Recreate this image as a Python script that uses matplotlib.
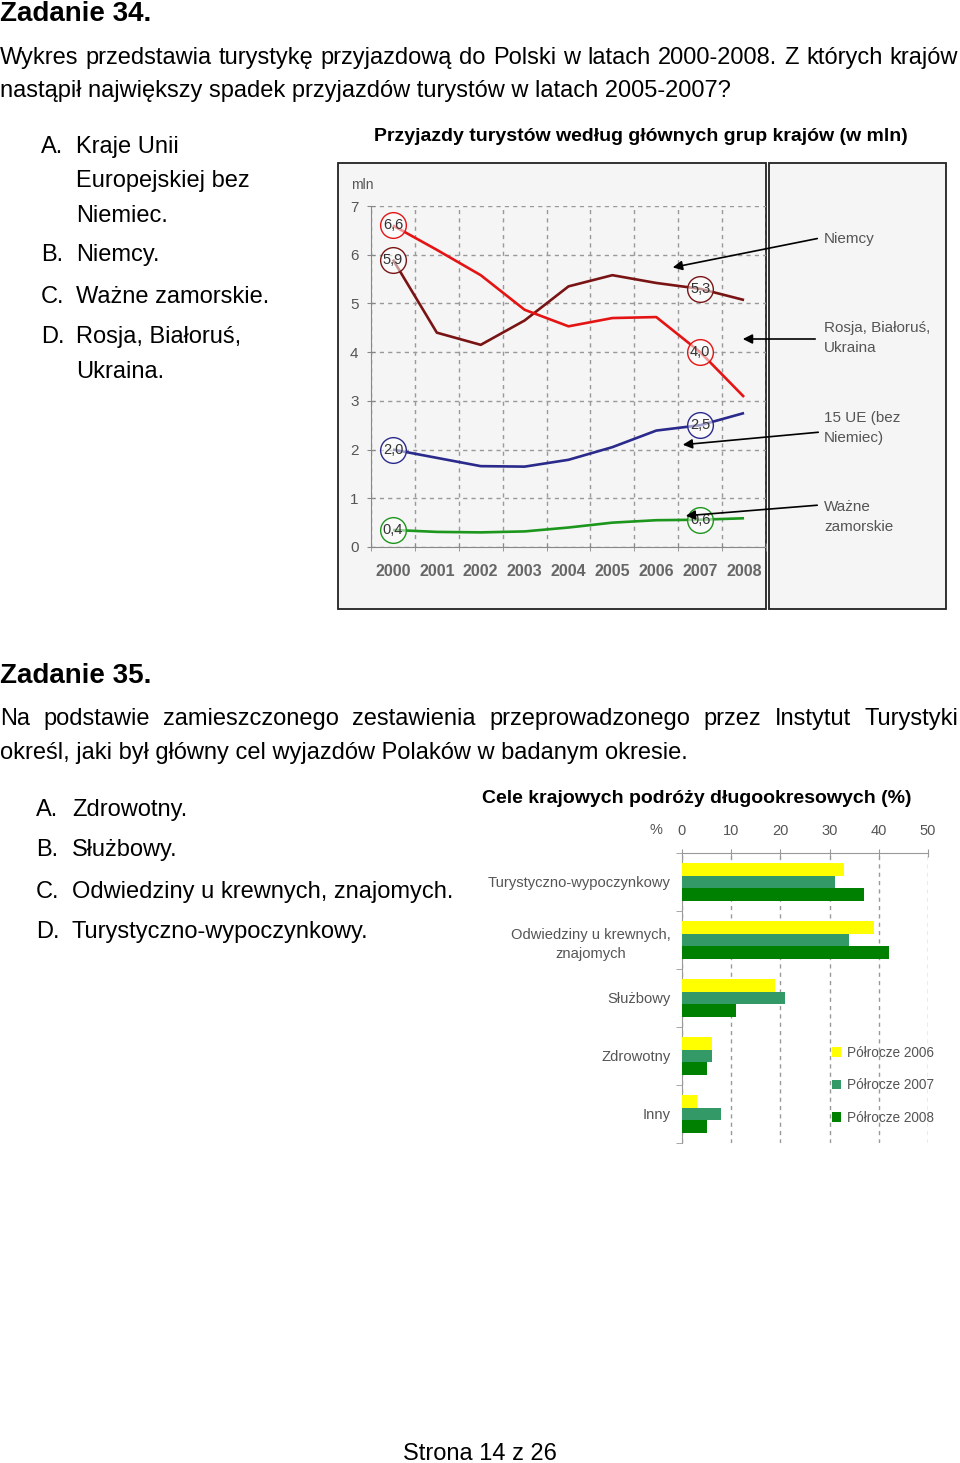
import matplotlib
matplotlib.use("Agg")
import matplotlib.pyplot as plt
from matplotlib.patches import Rectangle, FancyArrowPatch
import numpy as np

plt.rcParams['font.family'] = ['Liberation Sans', 'DejaVu Sans']

W, H = 960, 1463

# --- data: arrivals by country group (mln) ---
years      = ["2000", "2001", "2002", "2003", "2004", "2005", "2006", "2007", "2008"]
niemcy     = [5.9, 4.4, 4.15, 4.65, 5.35, 5.58, 5.42, 5.3, 5.07]
rosja      = [6.6, 6.1, 5.58, 4.87, 4.53, 4.70, 4.72, 4.0, 3.08]
ue15       = [2.0, 1.83, 1.66, 1.65, 1.79, 2.05, 2.39, 2.5, 2.75]
zamorskie  = [0.35, 0.31, 0.30, 0.32, 0.40, 0.50, 0.55, 0.56, 0.59]
label_2000 = [5.9, 6.6, 2.0, 0.4]
label_2007 = [5.3, 4.0, 2.5, 0.6]
series_names = ["Niemcy", "Rosja, Białoruś,\nUkraina", "15 UE (bez\nNiemiec)", "Ważne\nzamorskie"]

# --- data: purposes of domestic trips (%) ---
purposes = ["Turystyczno-wypoczynkowy", "Odwiedziny u krewnych,\nznajomych",
            "Służbowy", "Zdrowotny", "Inny"]
p2006 = [33, 39, 19, 6, 3]
p2007 = [31, 34, 21, 6, 8]
p2008 = [37, 42, 11, 5, 5]
periods = ["Półrocze 2006", "Półrocze 2007", "Półrocze 2008"]


def fx(x):
    return x / W


def fy(y):
    return 1 - y / H


fig = plt.figure(figsize=(W / 100, H / 100), dpi=100, facecolor="white")


def txt(x, y, s, **kw):
    kw.setdefault("fontsize", 17)
    kw.setdefault("va", "baseline")
    return fig.text(fx(x), fy(y), s, **kw)


def justify(y, s, x0=0, x1=958, size=17):
    words = s.split()
    r = fig.canvas.get_renderer()
    ts = [txt(x0, y, w_, fontsize=size) for w_ in words]
    widths = [t.get_window_extent(r).width for t in ts]
    gap = (x1 - x0 - sum(widths)) / (len(words) - 1)
    x = x0
    for t, w_ in zip(ts, widths):
        t.set_x(fx(x))
        x += w_ + gap


# ---------------- page text ----------------
txt(0, 21, "Zadanie 34.", fontsize=20, fontweight="bold")
justify(64, "Wykres przedstawia turystykę przyjazdową do Polski w latach 2000-2008. Z których krajów")
txt(0, 97, "nastąpił największy spadek przyjazdów turystów w latach 2005-2007?")

opts34 = [("A.", ["Kraje Unii", "Europejskiej bez", "Niemiec."], 153),
          ("B.", ["Niemcy."], 261),
          ("C.", ["Ważne zamorskie."], 303),
          ("D.", ["Rosja, Białoruś,", "Ukraina."], 343)]
for letter, lines, yb in opts34:
    txt(41, yb, letter)
    for k, ln in enumerate(lines):
        txt(76, yb + k * 34.5, ln)

txt(0, 683, "Zadanie 35.", fontsize=20, fontweight="bold")
justify(725, "Na podstawie zamieszczonego zestawienia przeprowadzonego przez Instytut Turystyki")
txt(0, 759, "określ, jaki był główny cel wyjazdów Polaków w badanym okresie.")
opts35 = [("A.", "Zdrowotny.", 816), ("B.", "Służbowy.", 856),
          ("C.", "Odwiedziny u krewnych, znajomych.", 898),
          ("D.", "Turystyczno-wypoczynkowy.", 938)]
for letter, s, yb in opts35:
    txt(36, yb, letter)
    txt(72, yb, s)

txt(480, 1460, "Strona 14 z 26", ha="center")

# ---------------- line chart ----------------
txt(641, 141, "Przyjazdy turystów według głównych grup krajów (w mln)",
    fontsize=14, fontweight="bold", ha="center")

for (x0, x1) in [(338, 766), (769, 946)]:
    fig.patches.append(Rectangle((fx(x0), fy(609)), (x1 - x0) / W, (609 - 163) / H,
                                 transform=fig.transFigure, facecolor="#f5f5f5",
                                 edgecolor="#222222", lw=1.3, zorder=-1))

ax1 = fig.add_axes([fx(371), fy(547), (766 - 371) / W, (547 - 206) / H])
ax1.set_facecolor("none")
x = np.arange(len(years))
colors = ["#7a1414", "#e41414", "#2a2a8c", "#1c961c"]
all_series = [niemcy, rosja, ue15, zamorskie]
for vals, c in zip(all_series, colors):
    ax1.plot(x, vals, color=c, lw=1.9, zorder=3, solid_capstyle="butt")

for vals, c, l0, l7 in zip(all_series, colors, label_2000, label_2007):
    for i, lab in [(0, l0), (7, l7)]:
        ax1.plot(i, vals[i], "o", ms=18.5, mfc=(1, 1, 1, 0.55), mec=c, mew=1, zorder=4)
        ax1.text(i, vals[i], f"{lab:.1f}".replace(".", ","), fontsize=10.5,
                 color="#333333", ha="center", va="center", zorder=5)

ax1.set_xlim(-0.5, 8.5)
ax1.set_ylim(0, 7)
ax1.set_xticks(x)
ax1.set_xticklabels(years, fontsize=11.5, fontweight="bold", color="#666666")
ax1.tick_params(axis="x", which="major", length=0, pad=12)
ax1.set_xticks(np.arange(-0.5, 9), minor=True)
ax1.tick_params(axis="x", which="minor", length=6, direction="inout", color="#888888")
ax1.set_yticks(range(8))
ax1.tick_params(axis="y", length=6, direction="inout", color="#888888",
                labelsize=11, labelcolor="#555555", pad=6)
ax1.grid(which="minor", axis="x", color="#999999", ls=(0, (3, 3)), lw=1)
ax1.grid(which="major", axis="y", color="#999999", ls=(0, (3, 3)), lw=1)
ax1.set_axisbelow(True)
for s in ["top", "right"]:
    ax1.spines[s].set_visible(False)
for s in ["left", "bottom"]:
    ax1.spines[s].set_color("#888888")
txt(362, 185, "mln", fontsize=10, color="#555555", ha="center", va="center")

# legend labels with arrows
leg_pos = [(824, 239), (824, 338), (824, 428), (824, 517)]
arrow_tips = [(670, 268), (740, 339), (680, 445), (683, 516)]
arrow_tails = [(820, 238), (818, 339), (821, 432), (820, 505)]
for name, (lx, ly), tip, tail in zip(series_names, leg_pos, arrow_tips, arrow_tails):
    txt(lx, ly, name, fontsize=11, color="#555555", va="center", linespacing=1.55)
    fig.add_artist(FancyArrowPatch(
        (fx(tail[0]), fy(tail[1])), (fx(tip[0]), fy(tip[1])),
        transform=fig.transFigure, arrowstyle="-|>", mutation_scale=14,
        color="black", lw=1.2, zorder=6))

# ---------------- bar chart ----------------
txt(697, 803, "Cele krajowych podróży długookresowych (%)",
    fontsize=14, fontweight="bold", ha="center")

ax2 = fig.add_axes([fx(682), fy(1143), (928 - 682) / W, (1143 - 853) / H])
ax2.set_facecolor("none")
yy = np.arange(len(purposes))
bh = 0.224
bar_colors = ["#ffff00", "#339966", "#008000"]
for k, (vals, c, lab) in enumerate(zip([p2006, p2007, p2008], bar_colors, periods)):
    ax2.barh(yy + (k - 1) * bh, vals, height=bh, color=c, label=lab, zorder=3)
ax2.set_xlim(0, 50)
ax2.set_ylim(4.5, -0.5)
ax2.xaxis.tick_top()
ax2.set_xticks(range(0, 51, 10))
ax2.tick_params(axis="x", length=6, direction="inout", color="#999999",
                labelsize=10.5, labelcolor="#555555", pad=8)
ax2.set_yticks(yy)
ax2.set_yticklabels(purposes, fontsize=10.6, color="#555555", multialignment="center",
                    linespacing=1.5)
ax2.tick_params(axis="y", which="major", length=0, pad=8)
ax2.set_yticks(np.arange(-0.5, 5), minor=True)
ax2.tick_params(axis="y", which="minor", length=4, color="#999999")
ax2.grid(axis="x", color="#999999", ls=(0, (3, 3)), lw=1)
ax2.set_axisbelow(True)
for s in ["bottom", "right"]:
    ax2.spines[s].set_visible(False)
for s in ["top", "left"]:
    ax2.spines[s].set_color("#999999")
txt(656, 830, "%", fontsize=10.5, color="#555555", ha="center", va="center")
leg = ax2.legend(loc="upper left", bbox_to_anchor=(fx(825), fy(1039)),
                 bbox_transform=fig.transFigure, frameon=False, fontsize=9.8,
                 handlelength=0.7, handleheight=0.7, handletextpad=0.4,
                 labelspacing=1.35, borderpad=0)
for t in leg.get_texts():
    t.set_color("#555555")

fig.savefig("out.png", dpi=100, facecolor="white")
